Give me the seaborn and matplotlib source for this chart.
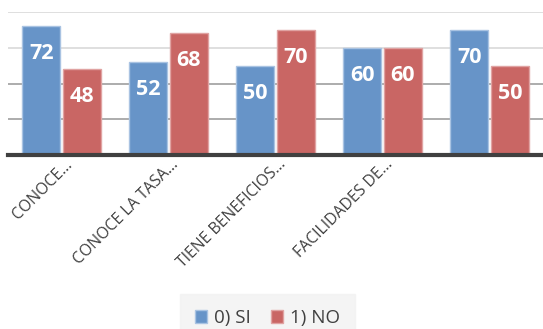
import matplotlib
matplotlib.use("Agg")
import matplotlib.pyplot as plt
import matplotlib.transforms as mtransforms
import seaborn as sns
import pandas as pd

categories = ["CONOCE...", "CONOCE LA TASA...", "TIENE BENEFICIOS...", "FACILIDADES DE...", ""]
si_values = [72, 52, 50, 60, 70]
no_values = [48, 68, 70, 60, 50]
series = ["0) SI", "1) NO"]

df = pd.DataFrame({
    "cat": [f"c{i}" for i in range(len(categories))] * 2,
    "val": si_values + no_values,
    "serie": [series[0]] * len(si_values) + [series[1]] * len(no_values),
})

sns.set_theme(style="white")
plt.rcParams["font.family"] = ["Open Sans", "DejaVu Sans"]

fig = plt.figure(figsize=(5.43, 3.29), dpi=100)
ax = fig.add_axes([8 / 543, 1 - 155 / 329, 535 / 543, (155 - 12) / 329])

palette = {series[0]: "#6794c8", series[1]: "#c96664"}
sns.barplot(data=df, x="cat", y="val", hue="serie", palette=palette,
            width=0.76, gap=0.05, saturation=1, ax=ax, legend=True, zorder=3)

edge = {series[0]: "#a9c3e2", series[1]: "#e0a3a2"}
for cont, s in zip(ax.containers, series):
    for b in cont:
        b.set_edgecolor(edge[s])
        b.set_linewidth(1.0)
        ax.annotate(f"{int(b.get_height())}",
                    xy=(b.get_x() + b.get_width() / 2, b.get_height()),
                    xytext=(0, -27.5 * 0.72), textcoords="offset points",
                    ha="center", va="center", color="white", fontsize=15.5,
                    fontweight="bold", zorder=6)

ax.set_ylim(0, 80)
ax.set_xlim(-0.5, len(categories) - 0.5)

for y, c in [(20, "#a6a6a6"), (40, "#a6a6a6"), (60, "#dcdcdc"), (80, "#dcdcdc")]:
    ax.axhline(y, color=c, lw=1.3, zorder=1)

for sp in ["top", "right", "left"]:
    ax.spines[sp].set_visible(False)
ax.spines["bottom"].set_color("#404040")
ax.spines["bottom"].set_linewidth(3)
ax.spines["bottom"].set_zorder(5)

ax.set_yticks([])
ax.set_xlabel("")
ax.set_ylabel("")
ax.set_xticks(range(len(categories)))
ax.set_xticklabels(categories, rotation=45, ha="right", va="center",
                   rotation_mode="anchor", fontsize=11.3, color="#404040")
ax.tick_params(axis="x", length=0, pad=5)
offset = mtransforms.ScaledTranslation(8 / 100, 0, fig.dpi_scale_trans)
for lab in ax.get_xticklabels():
    lab.set_transform(lab.get_transform() + offset)

leg = ax.legend(loc="center", bbox_to_anchor=(267.5 / 543, 1 - 318 / 329),
                bbox_transform=fig.transFigure,
                ncol=2, frameon=True, fontsize=13.5, handlelength=0.64, handleheight=0.64,
                handletextpad=0.37, columnspacing=1.07, borderpad=0.5)
leg.get_frame().set_facecolor("#f2f2f2")
leg.get_frame().set_edgecolor("#f2f2f2")
leg.get_frame().set_boxstyle("square")
for t in leg.get_texts():
    t.set_color("#404040")
for h, s in zip(leg.legend_handles, series):
    h.set_edgecolor(edge[s])

fig.savefig("out.png", dpi=100)
